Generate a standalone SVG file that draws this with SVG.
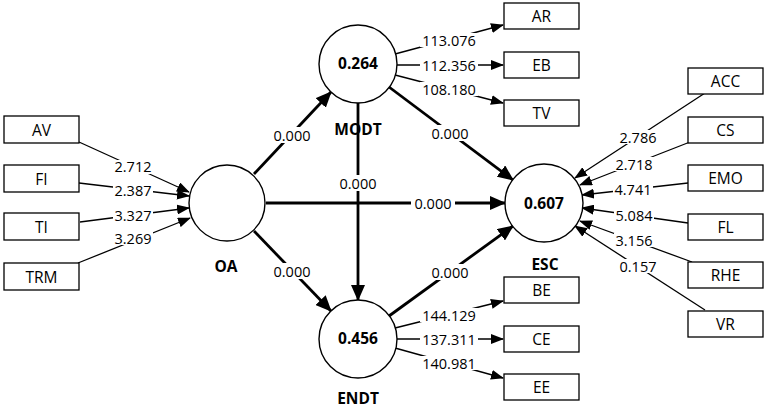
<svg xmlns="http://www.w3.org/2000/svg" width="767" height="409" viewBox="0 0 767 409">
<style>
.box{fill:#fff;stroke:#000;stroke-width:1.3}
.circ{fill:#fff;stroke:#000;stroke-width:1.4}
.ol{stroke:#000;stroke-width:1.3;fill:none}
.il{stroke:#000;stroke-width:2.8;fill:none}
.bg{fill:#fff}
.num{font-family:"Open Sans","Noto Sans",sans-serif;font-size:14.5px;text-anchor:middle;dominant-baseline:central;fill:#000}
.lbl{font-family:"Open Sans","Noto Sans",sans-serif;font-size:15.5px;text-anchor:middle;dominant-baseline:central;fill:#000}
.bold{font-family:"Open Sans","Noto Sans",sans-serif;font-size:15.5px;font-weight:bold;text-anchor:middle;dominant-baseline:central;fill:#000}
</style>
<defs>
<marker id="as" markerUnits="userSpaceOnUse" markerWidth="13" markerHeight="10" refX="12" refY="5" orient="auto"><path d="M0,0 L13,5 L0,10 Z" fill="#000"/></marker>
<marker id="al" markerUnits="userSpaceOnUse" markerWidth="16" markerHeight="14" refX="15" refY="7" orient="auto"><path d="M0,0 L16,7 L0,14 Z" fill="#000"/></marker>
</defs>
<g id="connectors">
<line class="ol" x1="79" y1="142" x2="189" y2="192" marker-end="url(#as)"/>
<line class="ol" x1="79" y1="183" x2="189" y2="196" marker-end="url(#as)"/>
<line class="ol" x1="80" y1="222" x2="189" y2="208" marker-end="url(#as)"/>
<line class="ol" x1="78" y1="263" x2="190" y2="218" marker-end="url(#as)"/>
<line class="ol" x1="395" y1="54" x2="503" y2="25" marker-end="url(#as)"/>
<line class="ol" x1="397" y1="65" x2="503" y2="65" marker-end="url(#as)"/>
<line class="ol" x1="395" y1="75" x2="503" y2="103" marker-end="url(#as)"/>
<line class="ol" x1="395" y1="328" x2="503" y2="301" marker-end="url(#as)"/>
<line class="ol" x1="397" y1="339" x2="503" y2="339" marker-end="url(#as)"/>
<line class="ol" x1="395" y1="348" x2="503" y2="378" marker-end="url(#as)"/>
<line class="ol" x1="705" y1="93" x2="575" y2="178" marker-end="url(#as)"/>
<line class="ol" x1="690" y1="142" x2="580" y2="185" marker-end="url(#as)"/>
<line class="ol" x1="688" y1="183" x2="582" y2="195" marker-end="url(#as)"/>
<line class="ol" x1="688" y1="223" x2="582" y2="208" marker-end="url(#as)"/>
<line class="ol" x1="692" y1="262" x2="580" y2="221" marker-end="url(#as)"/>
<line class="ol" x1="705" y1="310" x2="575" y2="226" marker-end="url(#as)"/>
<line class="il" x1="254" y1="174" x2="331" y2="92" marker-end="url(#al)"/>
<line class="il" x1="254" y1="231" x2="331" y2="311" marker-end="url(#al)"/>
<line class="il" x1="266" y1="203" x2="505" y2="203" marker-end="url(#al)"/>
<line class="il" x1="358" y1="103" x2="358" y2="300" marker-end="url(#al)"/>
<line class="il" x1="389" y1="87" x2="513" y2="180" marker-end="url(#al)"/>
<line class="il" x1="389" y1="316" x2="513" y2="226" marker-end="url(#al)"/>
<g id="path-labels">
<rect class="bg" x="113" y="160" width="40" height="14"/><text class="num" x="133" y="166">2.712</text>
<rect class="bg" x="113" y="183" width="40" height="14"/><text class="num" x="133" y="190">2.387</text>
<rect class="bg" x="113" y="208" width="40" height="14"/><text class="num" x="133" y="215">3.327</text>
<rect class="bg" x="113" y="231" width="40" height="14"/><text class="num" x="133" y="238">3.269</text>
<rect class="bg" x="420" y="33" width="58" height="14"/><text class="num" x="449" y="40">113.076</text>
<rect class="bg" x="420" y="58" width="58" height="14"/><text class="num" x="449" y="65">112.356</text>
<rect class="bg" x="420" y="82" width="58" height="14"/><text class="num" x="449" y="89">108.180</text>
<rect class="bg" x="420" y="308" width="58" height="14"/><text class="num" x="449" y="315">144.129</text>
<rect class="bg" x="420" y="332" width="58" height="14"/><text class="num" x="449" y="339">137.311</text>
<rect class="bg" x="420" y="356" width="58" height="14"/><text class="num" x="449" y="363">140.981</text>
<rect class="bg" x="618" y="130" width="40" height="14"/><text class="num" x="638" y="137">2.786</text>
<rect class="bg" x="614" y="157" width="40" height="14"/><text class="num" x="634" y="164">2.718</text>
<rect class="bg" x="613" y="182" width="40" height="14"/><text class="num" x="633" y="189">4.741</text>
<rect class="bg" x="614" y="208" width="40" height="14"/><text class="num" x="634" y="215">5.084</text>
<rect class="bg" x="614" y="233" width="40" height="14"/><text class="num" x="634" y="240">3.156</text>
<rect class="bg" x="618" y="259" width="40" height="14"/><text class="num" x="638" y="266">0.157</text>
<rect class="bg" x="270" y="127" width="44" height="16"/><text class="num" x="292" y="135">0.000</text>
<rect class="bg" x="270" y="263" width="44" height="16"/><text class="num" x="292" y="271">0.000</text>
<rect class="bg" x="411" y="195" width="44" height="16"/><text class="num" x="433" y="203">0.000</text>
<rect class="bg" x="336" y="175" width="44" height="16"/><text class="num" x="358" y="183">0.000</text>
<rect class="bg" x="428" y="125" width="44" height="16"/><text class="num" x="450" y="133">0.000</text>
<rect class="bg" x="428" y="264" width="44" height="16"/><text class="num" x="450" y="272">0.000</text>
</g>
</g>
<g id="OA"><circle class="circ" cx="227" cy="203" r="38"/><text class="bold" x="226" y="266">OA</text></g>
<g id="MODT"><circle class="circ" cx="358" cy="64" r="39"/><text class="bold" x="358" y="63">0.264</text><text class="bold" x="358" y="129">MODT</text></g>
<g id="ESC"><circle class="circ" cx="544" cy="203" r="39"/><text class="bold" x="544" y="203">0.607</text><text class="bold" x="545" y="264">ESC</text></g>
<g id="ENDT"><circle class="circ" cx="358" cy="339" r="39"/><text class="bold" x="358" y="338">0.456</text><text class="bold" x="358" y="398">ENDT</text></g>
<g id="AV"><rect class="box" x="4" y="116" width="75" height="27"/><text class="lbl" x="41.5" y="129.5">AV</text></g>
<g id="FI"><rect class="box" x="4" y="165" width="75" height="27"/><text class="lbl" x="41.5" y="178.5">FI</text></g>
<g id="TI"><rect class="box" x="4" y="213" width="75" height="27"/><text class="lbl" x="41.5" y="226.5">TI</text></g>
<g id="TRM"><rect class="box" x="4" y="263" width="75" height="27"/><text class="lbl" x="41.5" y="276.5">TRM</text></g>
<g id="AR"><rect class="box" x="504" y="3" width="75" height="26"/><text class="lbl" x="541.5" y="16">AR</text></g>
<g id="EB"><rect class="box" x="504" y="52" width="75" height="26"/><text class="lbl" x="541.5" y="65">EB</text></g>
<g id="TV"><rect class="box" x="504" y="100" width="75" height="26"/><text class="lbl" x="541.5" y="113">TV</text></g>
<g id="BE"><rect class="box" x="504" y="277" width="75" height="26"/><text class="lbl" x="541.5" y="290">BE</text></g>
<g id="CE"><rect class="box" x="504" y="326" width="75" height="26"/><text class="lbl" x="541.5" y="339">CE</text></g>
<g id="EE"><rect class="box" x="504" y="374" width="75" height="26"/><text class="lbl" x="541.5" y="387">EE</text></g>
<g id="ACC"><rect class="box" x="688" y="68" width="75" height="26"/><text class="lbl" x="725.5" y="81">ACC</text></g>
<g id="CS"><rect class="box" x="688" y="117" width="75" height="26"/><text class="lbl" x="725.5" y="130">CS</text></g>
<g id="EMO"><rect class="box" x="688" y="165" width="75" height="26"/><text class="lbl" x="725.5" y="178">EMO</text></g>
<g id="FL"><rect class="box" x="688" y="214" width="75" height="26"/><text class="lbl" x="725.5" y="227">FL</text></g>
<g id="RHE"><rect class="box" x="688" y="262" width="75" height="26"/><text class="lbl" x="725.5" y="275">RHE</text></g>
<g id="VR"><rect class="box" x="688" y="311" width="75" height="26"/><text class="lbl" x="725.5" y="324">VR</text></g>
</svg>
